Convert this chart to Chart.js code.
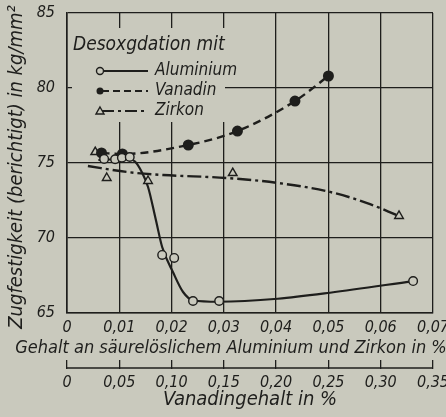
<!DOCTYPE html>
<html>
<head>
<meta charset="utf-8">
<script src="https://cdn.jsdelivr.net/npm/chart.js@4/dist/chart.umd.min.js"></script>
<style>
  html, body { margin: 0; padding: 0; background: #c9c9bd; }
  #wrap { width: 446px; height: 417px; }
</style>
</head>
<body>
<div id="wrap"><canvas id="myChart" width="446" height="417"></canvas></div>
<script>
// measured points (x in % Al/Zr, y in kg/mm2)
const alPoints = [[0.0071, 75.27], [0.0092, 75.25], [0.0105, 75.35], [0.012, 75.4], [0.0182, 68.87], [0.0205, 68.67], [0.0241, 65.8], [0.0291, 65.8], [0.0662, 67.13]];
const alCurve = [[0.006, 75.2], [0.01, 75.25], [0.012, 75.25], [0.013, 75.1], [0.0143, 74.4], [0.0155, 73.4], [0.017, 71.2], [0.0182, 69.4], [0.0203, 67.7], [0.0222, 66.4], [0.0241, 65.85], [0.029, 65.75], [0.0403, 65.95], [0.0503, 66.35], [0.0662, 67.13]];
// vanadium is on its own axis (x in % V)
const vPoints = [[0.033, 75.67], [0.053, 75.6], [0.116, 76.2], [0.163, 77.13], [0.218, 79.13], [0.25, 80.8]];
const zrPoints = [[0.0054, 75.73], [0.0076, 74.0], [0.0155, 73.8], [0.0317, 74.33], [0.0635, 71.47]];
const zrCurve = [[0.004, 74.8], [0.0115, 74.4], [0.0184, 74.2], [0.0306, 74.0], [0.0403, 73.67], [0.0503, 73.07], [0.0574, 72.33], [0.0635, 71.47]];

const alTickLabels = ["0", "0,01", "0,02", "0,03", "0,04", "0,05", "0,06", "0,07"];
const vTickLabels = ["0", "0,05", "0,10", "0,15", "0,20", "0,25", "0,30", "0,35"];
const alTitle = "Gehalt an säurelöslichem Aluminium und Zirkon in %";
const yTitle = "Zugfestigkeit (berichtigt) in kg/mm²";
const legendTitle = "Desoxgdation mit";
const legendNames = ["Aluminium", "Vanadin", "Zirkon"];

const bg = "#c9c9bd";
const ink = "#1e1e1c";
const fam = "'DejaVu Sans Condensed', 'Liberation Sans Narrow', sans-serif";

const toXY = (arr) => arr.map((p) => ({ x: p[0], y: p[1] }));

// legend drawn over the grid with its own background
const legendBox = {
  id: "legendBox",
  afterDraw(chart) {
    const c = chart.ctx;
    c.save();
    c.fillStyle = bg;
    c.fillRect(72, 28, 153, 94);
    c.fillStyle = ink;
    c.font = "italic 19px " + fam;
    c.textBaseline = "middle";
    c.fillText(legendTitle, 73, 45);
    const rows = [71, 91, 111];
    c.font = "italic 17px " + fam;
    rows.forEach((y, i) => {
      c.strokeStyle = ink;
      c.lineWidth = 2.2;
      c.setLineDash(i === 0 ? [] : i === 1 ? [7, 4] : [12, 4, 3, 4]);
      c.beginPath();
      c.moveTo(102, y);
      c.lineTo(148, y);
      c.stroke();
      c.setLineDash([]);
      c.lineWidth = 1.4;
      c.beginPath();
      if (i === 0) {
        c.arc(100, y, 3.5, 0, Math.PI * 2);
        c.fillStyle = bg;
        c.fill();
        c.stroke();
      } else if (i === 1) {
        c.arc(100, y, 3.5, 0, Math.PI * 2);
        c.fillStyle = ink;
        c.fill();
      } else {
        c.moveTo(100, y - 4);
        c.lineTo(104, y + 3);
        c.lineTo(96, y + 3);
        c.closePath();
        c.fillStyle = bg;
        c.fill();
        c.stroke();
      }
      c.fillStyle = ink;
      c.fillText(legendNames[i], 155, y);
    });

    // Al/Zr axis title, wider than the plot so drawn here
    c.font = "italic 18px " + fam;
    c.textAlign = "center";
    c.fillText(alTitle, 231, 348);

    // y title
    c.save();
    c.translate(17, 167);
    c.rotate(-Math.PI / 2);
    c.font = "italic 20px " + fam;
    c.fillText(yTitle, 0, 0);
    c.restore();

    // base line of the vanadium axis
    const v = chart.scales.x2;
    c.strokeStyle = ink;
    c.lineWidth = 1.5;
    c.beginPath();
    c.moveTo(v.left, v.top + 8);
    c.lineTo(v.right, v.top + 8);
    c.stroke();
    c.restore();
  },
};

const ctx = document.getElementById("myChart").getContext("2d");
const myChart = new Chart(ctx, {
  type: "scatter",
  data: {
    datasets: [
      {
        label: "Aluminium",
        data: toXY(alPoints),
        xAxisID: "x",
        pointStyle: "circle",
        pointRadius: 4.3,
        pointBorderWidth: 1.4,
        pointBackgroundColor: bg,
        pointBorderColor: ink,
        showLine: false,
        order: 1,
      },
      {
        label: "Aluminium Kurve",
        data: toXY(alCurve),
        xAxisID: "x",
        showLine: true,
        pointRadius: 0,
        borderColor: ink,
        borderWidth: 2.2,
        cubicInterpolationMode: "monotone",
        order: 2,
      },
      {
        label: "Vanadin",
        data: toXY(vPoints),
        xAxisID: "x2",
        showLine: true,
        pointRadius: 4.3,
        pointBackgroundColor: ink,
        pointBorderColor: ink,
        borderColor: ink,
        borderWidth: 2.4,
        borderDash: [8, 5],
        cubicInterpolationMode: "monotone",
        order: 1,
      },
      {
        label: "Zirkon",
        data: toXY(zrPoints),
        xAxisID: "x",
        pointStyle: "triangle",
        pointRadius: 5,
        pointBorderWidth: 1.4,
        pointBackgroundColor: bg,
        pointBorderColor: ink,
        showLine: false,
        order: 1,
      },
      {
        label: "Zirkon Kurve",
        data: toXY(zrCurve),
        xAxisID: "x",
        showLine: true,
        pointRadius: 0,
        borderColor: ink,
        borderWidth: 2.4,
        borderDash: [14, 4, 3, 4],
        cubicInterpolationMode: "monotone",
        order: 2,
      },
    ],
  },
  options: {
    responsive: false,
    animation: false,
    layout: { padding: { top: 13, right: 13, left: 0, bottom: 0 } },
    plugins: { legend: { display: false }, tooltip: { enabled: false } },
    scales: {
      x: {
        type: "linear",
        position: "bottom",
        weight: 0,
        min: 0,
        max: 0.07,
        afterFit: (s) => {
          s.height = 47;
          s.paddingLeft = 0;
          s.paddingRight = 0;
        },
        afterBuildTicks: (s) => {
          s.ticks = alTickLabels.map((_, i) => ({ value: i * 0.01 }));
        },
        ticks: {
          color: ink,
          padding: 5,
          maxRotation: 0,
          autoSkip: false,
          font: { family: fam, size: 16, style: "italic" },
          callback: (v, i) => alTickLabels[i],
        },
        grid: { color: ink, lineWidth: 1.3, drawTicks: false },
        border: { color: ink, width: 1.6 },
        title: { display: false },
      },
      x2: {
        type: "linear",
        position: "bottom",
        weight: 1,
        min: 0,
        max: 0.35,
        afterFit: (s) => {
          s.height = 57;
          s.paddingLeft = 0;
          s.paddingRight = 0;
        },
        afterBuildTicks: (s) => {
          s.ticks = vTickLabels.map((_, i) => ({ value: i * 0.05 }));
        },
        ticks: {
          color: ink,
          padding: 4,
          maxRotation: 0,
          autoSkip: false,
          font: { family: fam, size: 16, style: "italic" },
          callback: (v, i) => vTickLabels[i],
        },
        grid: { drawOnChartArea: false, color: ink, lineWidth: 1.3, tickLength: 9 },
        border: { display: false },
        title: {
          display: true,
          text: "Vanadingehalt in %",
          color: ink,
          padding: { top: 0, bottom: 5 },
          font: { family: fam, size: 20, style: "italic" },
        },
      },
      y: {
        min: 65,
        max: 85,
        afterFit: (s) => {
          s.width = 67;
          s.paddingTop = 0;
          s.paddingBottom = 0;
        },
        ticks: {
          stepSize: 5,
          color: ink,
          padding: 12,
          font: { family: fam, size: 16, style: "italic" },
        },
        grid: { color: ink, lineWidth: 1.3, drawTicks: false },
        border: { color: ink, width: 1.6 },
        title: { display: false },
      },
    },
  },
  plugins: [legendBox],
});
</script>
</body>
</html>
